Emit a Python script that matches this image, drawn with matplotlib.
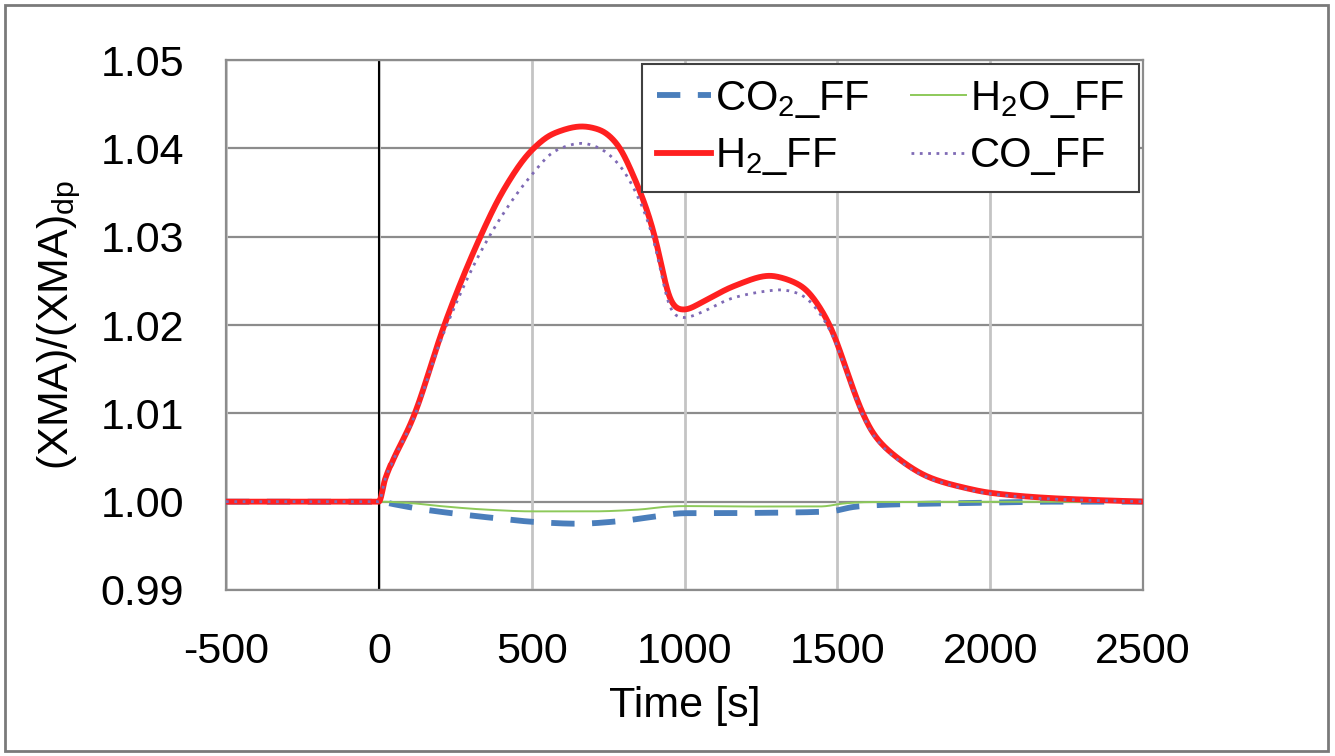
import matplotlib
import numpy as np

matplotlib.use("Agg")
import matplotlib.pyplot as plt
from matplotlib.patches import Rectangle

# values
time_h2 = [-500, 0, 21, 114, 214, 332, 408, 500, 572, 665, 724, 780, 834, 888, 921,
           948, 975, 1000, 1053, 1161, 1281, 1313, 1379, 1401, 1455, 1488, 1532,
           1575, 1619, 1695, 1804, 1913, 2000, 2200, 2500]
h2_ff = [1.0, 1.0, 1.0026, 1.0096, 1.0200, 1.0300, 1.0353, 1.0398, 1.0417, 1.0425,
         1.0421, 1.0405, 1.0368, 1.0319, 1.0275, 1.0230, 1.0218, 1.0217, 1.0225,
         1.0244, 1.0256, 1.0254, 1.0245, 1.0239, 1.0213, 1.0190, 1.0147, 1.0106,
         1.0076, 1.0050, 1.0027, 1.0016, 1.0010, 1.0004, 1.0]

time_co = [-500, 0, 21, 114, 197, 354, 500, 580, 665, 724, 790, 834, 888, 921, 948,
           975, 1000, 1053, 1161, 1281, 1313, 1379, 1401, 1455, 1488, 1532, 1575,
           1619, 1695, 1804, 1913, 2000, 2200, 2500]
co_ff = [1.0, 1.0, 1.0026, 1.0094, 1.0178, 1.0296, 1.0370, 1.0398, 1.0406, 1.0400,
         1.0380, 1.0355, 1.0310, 1.0265, 1.0220, 1.0209, 1.0208, 1.0214, 1.0231,
         1.0239, 1.0240, 1.0235, 1.0230, 1.0207, 1.0186, 1.0145, 1.0104, 1.0074,
         1.0048, 1.0026, 1.0015, 1.0009, 1.0003, 1.0]

time_co2 = [-500, 0, 50, 130, 260, 390, 510, 650, 790, 900, 1000, 1100, 1300, 1480,
            1550, 1600, 1700, 1950, 2200, 2500]
co2_ff = [1.0, 1.0, 0.9997, 0.9992, 0.9986, 0.9981, 0.9977, 0.9975, 0.9978, 0.9983,
          0.9987, 0.9987, 0.99875, 0.9989, 0.9994, 0.99955, 0.9997, 0.99985, 1.0, 1.0]

time_h2o = [-500, 0, 100, 200, 350, 500, 700, 850, 950, 1000, 1200, 1450, 1520,
            1600, 2500]
h2o_ff = [1.0, 1.0, 0.99985, 0.9995, 0.9991, 0.9989, 0.9989, 0.9991, 0.99945,
          0.9995, 0.99945, 0.99945, 0.9998, 0.99995, 1.0]

x_ticks = [-500, 0, 500, 1000, 1500, 2000, 2500]
y_ticks = [0.99, 1.00, 1.01, 1.02, 1.03, 1.04, 1.05]


def pchip(t, v, n=2001):
    # monotone cubic through the read points, then a light gaussian blur
    t = np.asarray(t, dtype=float)
    v = np.asarray(v, dtype=float)
    h = np.diff(t)
    d = np.diff(v) / h
    m = np.zeros_like(v)
    for i in range(1, len(v) - 1):
        if d[i - 1] * d[i] > 0:
            w1 = 2 * h[i] + h[i - 1]
            w2 = h[i] + 2 * h[i - 1]
            m[i] = (w1 + w2) / (w1 / d[i - 1] + w2 / d[i])
    m[0] = d[0]
    m[-1] = d[-1]
    tt = np.linspace(t[0], t[-1], n)
    idx = np.clip(np.searchsorted(t, tt) - 1, 0, len(t) - 2)
    s = (tt - t[idx]) / h[idx]
    h00 = 2 * s**3 - 3 * s**2 + 1
    h10 = s**3 - 2 * s**2 + s
    h01 = -2 * s**3 + 3 * s**2
    h11 = s**3 - s**2
    vv = (h00 * v[idx] + h10 * h[idx] * m[idx]
          + h01 * v[idx + 1] + h11 * h[idx] * m[idx + 1])

    step = tt[1] - tt[0]
    sigma = 14.0 / step
    k = np.arange(-int(4 * sigma), int(4 * sigma) + 1)
    kernel = np.exp(-0.5 * (k / sigma) ** 2)
    kernel /= kernel.sum()
    padded = np.pad(vv, len(k) // 2, mode="edge")
    vs = np.convolve(padded, kernel, mode="valid")
    vs[tt <= 0] = 1.0
    near = (tt > 0) & (tt < 40)
    vs[near] = vv[near]
    return tt, vs


plt.rcParams["font.family"] = ["Liberation Sans", "DejaVu Sans"]
plt.rcParams["mathtext.fontset"] = "custom"
plt.rcParams["mathtext.rm"] = "Liberation Sans"
plt.rcParams["mathtext.default"] = "regular"
plt.rcParams["axes.unicode_minus"] = False

fig = plt.figure(figsize=(13.35, 7.56), dpi=100)
ax = fig.add_axes([0.1693, 0.2196, 0.6869, 0.701])

ax.set_xlim(-500, 2500)
ax.set_ylim(0.99, 1.05)
ax.set_xticks(x_ticks)
ax.set_yticks(y_ticks)
ax.set_yticklabels([f"{v:.2f}" for v in y_ticks])

for y in y_ticks:
    ax.axhline(y, color="#8c8c8c", lw=1.6, zorder=0)
for x in x_ticks:
    ax.axvline(x, color="#c4c4c4", lw=2.0, zorder=0)
ax.axvline(0, color="black", lw=1.5, zorder=1)

t, v = pchip(time_co2, co2_ff)
ax.plot(t, v, color="#4a7ebb", lw=4.2, ls=(0, (4, 3)), label="CO$_2$_FF", zorder=3)
t, v = pchip(time_h2, h2_ff)
ax.plot(t, v, color="#ff2020", lw=4.2, label="H$_2$_FF", zorder=4)
t, v = pchip(time_h2o, h2o_ff)
ax.plot(t, v, color="#8dc95a", lw=1.4, label="H$_2$O_FF", zorder=3)
t, v = pchip(time_co, co_ff)
ax.plot(t, v, color="#7f6ab5", lw=2.0, ls=(0, (1, 2)), label="CO_FF", zorder=5)

for side in ["left", "right", "top", "bottom"]:
    ax.spines[side].set_color("#8c8c8c")
    ax.spines[side].set_linewidth(1.6)

ax.tick_params(axis="both", length=0, labelsize=31)
ax.tick_params(axis="y", pad=30)
ax.tick_params(axis="x", pad=30)

ax.set_xlabel("Time [s]", fontsize=31, labelpad=10)
ax.set_ylabel("(XMA)/(XMA)$_{dp}$", fontsize=31, labelpad=13)

leg = ax.legend(
    ncol=2,
    loc="upper right",
    fontsize=30,
    frameon=True,
    fancybox=False,
    framealpha=1,
    edgecolor="#404040",
    borderaxespad=0.1,
    handlelength=1.3,
    handletextpad=0.1,
    columnspacing=1.0,
    labelspacing=0.4,
    borderpad=0.35,
)
leg.get_frame().set_linewidth(1.5)

fig.patches.append(
    Rectangle((0.004, 0.006), 0.991, 0.988, transform=fig.transFigure,
              fill=False, edgecolor="#7a7a7a", lw=2)
)

fig.savefig("out.png", dpi=100)
plt.close(fig)
